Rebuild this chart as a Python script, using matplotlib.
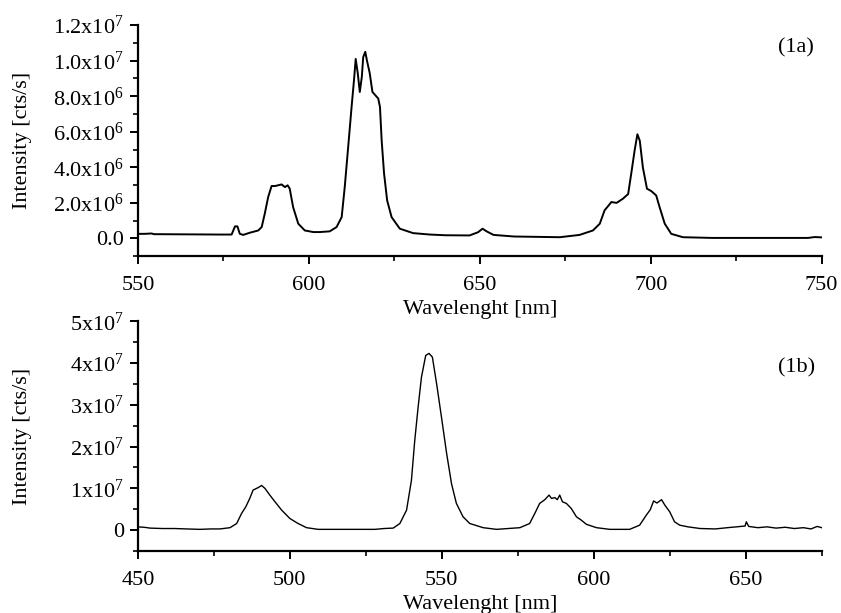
import matplotlib
matplotlib.use('Agg')
import matplotlib.pyplot as plt
from matplotlib.ticker import MultipleLocator, FixedLocator, FixedFormatter

#  Emission spectra (1a) and (1b)

# spectrum (1a): wavelength [nm] and intensity [cts/s]
wl_a = [550.0, 552.0, 554.0, 554.7, 556.0, 565.0, 574.0, 577.4, 578.4, 579.1, 579.8, 580.8,
        582.7, 585.2, 586.2, 587.1, 588.1, 589.1, 590.1, 591.0, 592.0, 593.0, 593.8,
        594.4, 595.4, 596.9, 598.8, 601.3, 603.2, 606.1, 608.1, 609.6, 610.5, 611.5,
        612.5, 613.2, 613.7, 614.3, 614.9, 615.5, 615.9, 616.5, 617.0, 617.8, 618.6,
        620.3, 620.8, 621.3, 622.0, 622.9, 624.2, 626.6, 630.5, 635.4, 640.0, 647.0,
        649.5, 650.8, 652.0, 654.0, 660.0, 673.4, 679.2, 683.1, 685.1, 686.5, 688.5,
        690.0, 691.9, 693.4, 694.3, 695.3, 696.1, 696.8, 697.7, 698.9, 700.2, 701.6,
        702.6, 704.1, 706.0, 709.4, 718.0, 730.0, 746.0, 748.0, 750.0]
int_a = [0.26e6, 0.26e6, 0.28e6, 0.24e6, 0.24e6, 0.23e6, 0.22e6, 0.22e6, 0.68e6, 0.68e6, 0.26e6, 0.20e6,
         0.32e6, 0.45e6, 0.64e6, 1.39e6, 2.33e6, 2.95e6, 2.95e6, 2.99e6, 3.04e6, 2.89e6, 2.99e6,
         2.80e6, 1.76e6, 0.83e6, 0.45e6, 0.36e6, 0.36e6, 0.40e6, 0.64e6, 1.20e6, 2.90e6, 5.14e6,
         7.40e6, 8.90e6, 10.1e6, 9.30e6, 8.24e6, 9.10e6, 10.2e6, 10.5e6, 10.0e6, 9.30e6, 8.24e6,
         7.87e6, 7.40e6, 5.50e6, 3.65e6, 2.14e6, 1.20e6, 0.55e6, 0.30e6, 0.22e6, 0.18e6, 0.17e6,
         0.35e6, 0.55e6, 0.40e6, 0.20e6, 0.11e6, 0.07e6, 0.20e6, 0.45e6, 0.83e6, 1.58e6, 2.05e6,
         2.00e6, 2.24e6, 2.50e6, 3.65e6, 4.96e6, 5.86e6, 5.50e6, 4.00e6, 2.80e6, 2.66e6, 2.42e6,
         1.76e6, 0.83e6, 0.26e6, 0.07e6, 0.03e6, 0.03e6, 0.03e6, 0.08e6, 0.06e6]

# spectrum (1b)
wl_b = [450.0, 452.0, 454.0, 458.0, 462.0, 466.0, 470.4, 474.0, 477.0, 480.3, 482.5, 484.1,
        485.5, 486.8, 487.9, 489.6, 490.7, 491.8, 493.4, 495.1, 497.3, 500.0, 502.7, 505.5,
        509.3, 515.0, 522.0, 528.0, 531.0, 534.0, 536.2, 538.4, 540.0, 541.1, 542.2, 543.3,
        544.7, 545.8, 546.9, 548.3, 549.9, 551.6, 553.2, 554.8, 557.0, 559.2, 563.6, 568.0,
        575.7, 578.9, 580.6, 582.2, 583.9, 585.3, 586.1, 587.2, 588.0, 588.8, 589.7, 591.0,
        592.6, 594.3, 595.9, 597.6, 600.9, 605.3, 611.8, 615.1, 617.3, 618.6, 619.7, 620.8,
        622.3, 623.4, 625.0, 626.6, 628.3, 631.0, 635.0, 640.0, 644.0, 647.0, 649.8, 650.2,
        651.0, 654.0, 657.0, 660.0, 663.0, 666.0, 669.0, 671.5, 673.5, 675.0]
int_b = [0.08e7, 0.07e7, 0.05e7, 0.04e7, 0.04e7, 0.03e7, 0.02e7, 0.03e7, 0.03e7, 0.06e7, 0.16e7, 0.40e7,
         0.56e7, 0.76e7, 0.96e7, 1.02e7, 1.07e7, 1.00e7, 0.84e7, 0.68e7, 0.48e7, 0.28e7, 0.16e7, 0.06e7,
         0.02e7, 0.02e7, 0.02e7, 0.02e7, 0.04e7, 0.05e7, 0.16e7, 0.48e7, 1.19e7, 2.15e7, 2.94e7, 3.66e7,
         4.18e7, 4.23e7, 4.14e7, 3.50e7, 2.70e7, 1.83e7, 1.11e7, 0.64e7, 0.32e7, 0.16e7, 0.06e7, 0.02e7,
         0.06e7, 0.16e7, 0.40e7, 0.64e7, 0.73e7, 0.84e7, 0.76e7, 0.78e7, 0.73e7, 0.84e7, 0.68e7, 0.64e7,
         0.52e7, 0.32e7, 0.24e7, 0.14e7, 0.06e7, 0.02e7, 0.02e7, 0.12e7, 0.36e7, 0.49e7, 0.70e7, 0.65e7,
         0.73e7, 0.60e7, 0.44e7, 0.20e7, 0.12e7, 0.08e7, 0.04e7, 0.03e7, 0.06e7, 0.08e7, 0.10e7, 0.20e7,
         0.09e7, 0.06e7, 0.08e7, 0.05e7, 0.07e7, 0.04e7, 0.06e7, 0.03e7, 0.09e7, 0.06e7]

yticks_a = [0, 2e6, 4e6, 6e6, 8e6, 1.0e7, 1.2e7]
ylabels_a = ['0.0', '2.0x10$^{6}$', '4.0x10$^{6}$', '6.0x10$^{6}$', '8.0x10$^{6}$',
             '1.0x10$^{7}$', '1.2x10$^{7}$']
yticks_b = [0, 1e7, 2e7, 3e7, 4e7, 5e7]
ylabels_b = ['0', '1x10$^{7}$', '2x10$^{7}$', '3x10$^{7}$', '4x10$^{7}$', '5x10$^{7}$']

plt.rcParams['font.family'] = 'Liberation Serif'
plt.rcParams['mathtext.fontset'] = 'custom'
plt.rcParams['mathtext.rm'] = 'Liberation Serif'
plt.rcParams['mathtext.it'] = 'Liberation Serif:italic'
plt.rcParams['font.size'] = 16


def style_axis(ax):
    ax.spines['top'].set_visible(False)
    ax.spines['right'].set_visible(False)
    ax.spines['left'].set_linewidth(1.6)
    ax.spines['bottom'].set_linewidth(1.6)
    ax.tick_params(which='major', direction='out', length=6, width=1.4, labelsize=16, pad=4)
    ax.tick_params(which='minor', direction='out', length=3.5, width=1.2)
    ax.tick_params(axis='x', which='major', pad=8)
    ax.set_xlabel('Wavelenght [nm]', fontsize=16, labelpad=4)
    ax.set_ylabel('Intensity [cts/s]', fontsize=16)
    ax.yaxis.set_label_coords(-0.155, 0.5)


fig = plt.figure(figsize=(8.41, 6.13), dpi=100)

# (1a)
ax1 = fig.add_axes([0.164, 0.582, 0.813, 0.377])
ax1.plot(wl_a, int_a, color='black', lw=1.4)
ax1.set_xlim(550, 750)
ax1.set_ylim(-1.0e6, 1.2e7)
ax1.xaxis.set_major_locator(MultipleLocator(50))
ax1.xaxis.set_minor_locator(MultipleLocator(25))
ax1.yaxis.set_major_locator(FixedLocator(yticks_a))
ax1.yaxis.set_major_formatter(FixedFormatter(ylabels_a))
ax1.yaxis.set_minor_locator(MultipleLocator(1e6))
style_axis(ax1)
ax1.text(0.963, 0.90, '(1a)', transform=ax1.transAxes, ha='center', va='center', fontsize=16)

# (1b)
ax2 = fig.add_axes([0.164, 0.101, 0.813, 0.375])
ax2.plot(wl_b, int_b, color='black', lw=1.0)
ax2.set_xlim(450, 675)
ax2.set_ylim(-0.5e7, 5e7)
ax2.xaxis.set_major_locator(MultipleLocator(50))
ax2.xaxis.set_minor_locator(MultipleLocator(25))
ax2.yaxis.set_major_locator(FixedLocator(yticks_b))
ax2.yaxis.set_major_formatter(FixedFormatter(ylabels_b))
ax2.yaxis.set_minor_locator(MultipleLocator(0.5e7))
style_axis(ax2)
ax2.text(0.963, 0.796, '(1b)', transform=ax2.transAxes, ha='center', va='center', fontsize=16)

fig.savefig('out.png', dpi=100)
